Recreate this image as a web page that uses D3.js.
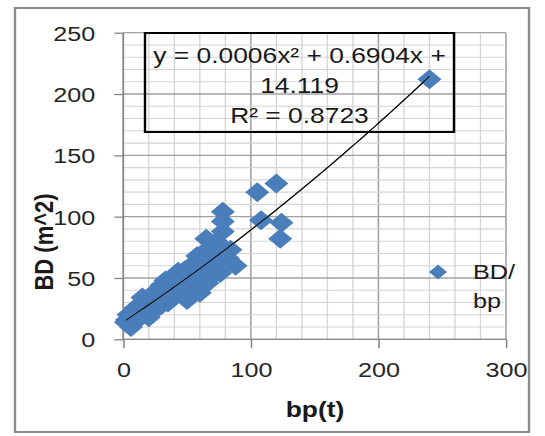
<!DOCTYPE html>
<html><head><meta charset="utf-8">
<script src="https://cdn.jsdelivr.net/npm/d3@7"></script>
<style>html,body{margin:0;padding:0;background:#fff;overflow:hidden}</style>
</head><body>
<svg id="chart"></svg>
<script>
// ---- data ----
const bp = [2,3,5,6,4,7,8,10,10,12,13,15,16,18,20,20,21,
  22,24,25,27,28,30,30,32,33,35,36,38,40,40,
  42,43,45,46,48,50,50,52,53,55,56,58,58,60,60,
  62,63,65,65,66,68,68,70,70,72,73,74,75,76,78,78,78,80,80,82,84,88,
  105,120,108,124,123,240];
const bd = [14,16,12,10,20,22,18,15,26,20,28,34,22,30,18,26,35,
  30,38,24,33,40,28,44,36,48,30,40,45,35,52,
  42,55,38,48,56,32,44,50,60,40,54,68,46,58,38,
  50,62,82,70,46,56,75,64,52,60,80,68,56,54,104,96,88,72,62,66,73,60,
  120,127,97,95,82,212];
const xTicks = [0,100,200,300];
const yTicks = [0,50,100,150,200,250];
const trendCoef = [0.0006, 0.6904, 14.119]; // a x^2 + b x + c
const equationLines = ["y = 0.0006x\u00B2 + 0.6904x +", "14.119", "R\u00B2 = 0.8723"];
const legendLines = ["BD/", "bp"];
const xTitle = "bp(t)";
const yTitle = "BD (m^2)";

// ---- layout ----
const W = 545, H = 436, S = 1.2;          // S: horizontal stretch of the reference
const VW = W / S;
const px = v => v / S;                     // pixel x -> internal x
const FONT = "'Liberation Sans', Arial, sans-serif";
const BLUE = "#4a7ebb";

const svg = d3.select("#chart")
  .attr("width", W).attr("height", H)
  .attr("viewBox", `0 0 ${VW} ${H}`)
  .attr("preserveAspectRatio", "none");

svg.append("rect").attr("x", 0).attr("y", 0).attr("width", VW).attr("height", H).attr("fill", "#fff");
// outer chart border
svg.append("rect").attr("x", px(15)).attr("y", 8).attr("width", px(514)).attr("height", 424)
  .attr("fill", "none").attr("stroke", "#8c8c8c").attr("stroke-width", 2);

const x = d3.scaleLinear().domain([0, 300]).range([px(123.3), px(506)]);
const y = d3.scaleLinear().domain([0, 250]).range([339.3, 32.7]);

// gridlines
const g = svg.append("g");
const xMinor = d3.range(0, 301, 20), yMinor = d3.range(0, 251, 10);
g.selectAll(".vx").data(xMinor).enter().append("line")
  .attr("x1", d => x(d)).attr("x2", d => x(d)).attr("y1", y(0)).attr("y2", y(250))
  .attr("stroke", d => d % 100 === 0 ? "#a0a0a0" : "#d4d4d4").attr("stroke-width", d => d % 100 === 0 ? 1.3 : 1.1);
g.selectAll(".hy").data(yMinor).enter().append("line")
  .attr("x1", x(0)).attr("x2", x(300)).attr("y1", d => y(d)).attr("y2", d => y(d))
  .attr("stroke", d => d % 50 === 0 ? "#a0a0a0" : "#d4d4d4").attr("stroke-width", d => d % 50 === 0 ? 1.3 : 1.1);

// axes
const xAxis = d3.axisBottom(x).tickValues(xTicks).tickSize(9).tickPadding(14).tickFormat(d3.format("d"));
const yAxis = d3.axisLeft(y).tickValues(yTicks).tickSize(px(9)).tickPadding(px(19)).tickFormat(d3.format("d"));
const gx = svg.append("g").attr("transform", `translate(0,${y(0)})`).call(xAxis);
const gy = svg.append("g").attr("transform", `translate(${x(0)},0)`).call(yAxis);
[gx, gy].forEach(a => {
  a.select(".domain").attr("stroke", "#868686").attr("stroke-width", 1.3);
  a.selectAll(".tick line").attr("stroke", "#868686").attr("stroke-width", 1.3);
  a.selectAll(".tick text").attr("font-family", FONT).attr("font-size", 21).attr("fill", "#262626");
});
gx.select(".domain").attr("d", `M${x(0)},0H${x(300)}`);
gy.select(".domain").attr("d", `M0,${y(0)}V${y(250)}`);
gx.selectAll(".tick text").attr("dy", "0.71em");
gy.selectAll(".tick text").attr("dy", "0.36em");

// trendline
const poly = t => trendCoef[0] * t * t + trendCoef[1] * t + trendCoef[2];
const xs = d3.range(d3.min(bp), d3.max(bp) + 0.5, 2);
svg.append("path").datum(xs)
  .attr("d", d3.line().x(t => x(t)).y(t => y(poly(t))))
  .attr("fill", "none").attr("stroke", "#111").attr("stroke-width", 1);

// points
const diamond = d3.symbol().type(d3.symbolSquare).size(200);
const pts = bp.map((v, i) => ({x: v, y: bd[i]}));
svg.append("g").selectAll("path").data(pts).enter().append("path")
  .attr("d", diamond)
  .attr("transform", d => `translate(${x(d.x)},${y(d.y)}) rotate(45)`)
  .attr("fill", BLUE);

// trendline redrawn on top (Excel draws it above markers)
svg.append("path").datum(xs)
  .attr("d", d3.line().x(t => x(t)).y(t => y(poly(t))))
  .attr("fill", "none").attr("stroke", "#111").attr("stroke-width", 1);

// equation box
svg.append("rect").attr("x", px(145)).attr("y", 33).attr("width", px(309)).attr("height", 99)
  .attr("fill", "none").attr("stroke", "#000").attr("stroke-width", 2);
svg.append("g").selectAll("text").data(equationLines).enter().append("text")
  .attr("x", px(299.5)).attr("y", (d, i) => 63 + i * 30)
  .attr("text-anchor", "middle").attr("font-family", FONT).attr("font-size", 22).attr("fill", "#1a1a1a")
  .text(d => d);

// legend
svg.append("path").attr("d", d3.symbol().type(d3.symbolSquare).size(112))
  .attr("transform", `translate(${px(438)},272) rotate(45)`).attr("fill", BLUE);
svg.append("g").selectAll("text").data(legendLines).enter().append("text")
  .attr("x", px(473)).attr("y", (d, i) => 279 + i * 29)
  .attr("font-family", FONT).attr("font-size", 21).attr("fill", "#1a1a1a")
  .text(d => d);

// axis titles
svg.append("text").attr("x", px(315)).attr("y", 417).attr("text-anchor", "middle")
  .attr("font-family", FONT).attr("font-weight", "bold").attr("font-size", 22).attr("fill", "#1a1a1a")
  .text(xTitle);
svg.append("text").attr("transform", `translate(${px(53)},242) rotate(-90)`).attr("text-anchor", "middle")
  .attr("font-family", FONT).attr("font-weight", "bold").attr("font-size", 22).attr("fill", "#1a1a1a")
  .text(yTitle);
</script>
</body></html>
